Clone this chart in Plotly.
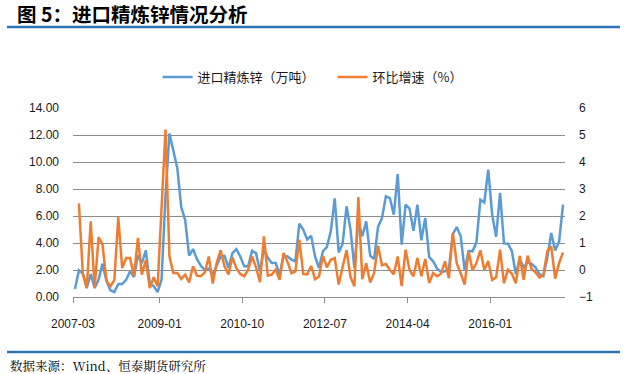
import plotly.graph_objects as go
import pandas as pd

months = [p.strftime("%Y-%m") for p in pd.period_range("2007-03", "2017-07", freq="M")]

imports_wt = [
    0.6, 1.98, 1.75, 0.67, 1.7, 0.67, 1.28, 2.47, 1.2, 0.5,
    0.37, 0.96, 0.96, 1.28, 1.9, 1.48, 3.1, 2.5, 3.45, 1.0,
    0.8, 0.37, 1.3, 7.5, 12.1, 10.9, 9.55, 6.65, 5.7, 3.06,
    3.55, 2.8, 2.3, 2.0, 2.1, 1.65, 2.27, 3.0, 3.05, 2.15,
    3.25, 3.55, 3.0, 2.27, 2.27, 3.43, 3.25, 1.9, 3.5, 2.9,
    2.52, 2.52, 1.65, 3.06, 3.0, 2.77, 2.64, 5.43, 5.0, 4.25,
    4.54, 3.0, 2.15, 3.4, 3.7, 4.86, 7.3, 3.3, 3.93, 6.72,
    5.0, 2.15, 5.6, 4.5, 5.6, 3.06, 2.81, 5.19, 5.85, 7.46,
    7.33, 6.1, 9.1, 3.88, 6.84, 6.55, 4.9, 6.84, 4.2, 5.85,
    2.95, 2.64, 2.1, 1.85, 1.9, 2.1, 4.65, 5.18, 4.5, 2.0,
    3.4, 3.38, 4.05, 7.2, 7.0, 9.43, 6.1, 4.47, 7.72, 3.97,
    3.95, 3.4, 1.7, 2.8, 2.2, 2.55, 2.45, 2.2, 1.7, 1.55,
    2.9, 4.74, 3.45, 4.1, 6.84,
]

mom_growth = [
    None, 2.47, -0.14, -0.67, 1.8, -0.67, 1.22, 0.94, -0.4, -0.6,
    -0.38, 1.96, 0.07, 0.44, 0.44, -0.23, 1.19, -0.17, 0.36, -0.67,
    -0.27, -0.6, 2.3, 5.2, 0.5, -0.11, -0.11, -0.33, -0.17, -0.46,
    0.14, -0.21, -0.23, -0.09, 0.5, -0.5, 0.26, 0.73, 0.14, -0.17,
    0.47, 0.07, -0.15, -0.23, 0.01, 0.5, 0.1, -0.45, 1.25, -0.21,
    -0.17, 0.01, -0.36, 0.63, 0.3, -0.12, -0.05, 1.12, -0.14, -0.16,
    0.15, -0.34, -0.24, 0.52, 0.1, 0.38, 0.44, -0.54, 0.12, 0.73,
    -0.26, -0.6, 2.7, -0.34, 0.25, -0.46, -0.11, 0.9, 0.18, 0.22,
    0.01, -0.16, 0.5, -0.6, 0.75, 0.0, -0.23, 0.44, -0.23, 0.41,
    -0.48, -0.11, -0.23, -0.14, 0.32, -0.3, 1.38, 0.24, -0.12, -0.54,
    0.69, -0.01, 0.26, 0.73, 0.0, 0.33, -0.37, -0.27, 0.75, -0.49,
    0.01, -0.14, -0.49, 0.52, -0.36, 0.53, 0.04, -0.08, -0.28, -0.19,
    0.69, 0.88, -0.32, 0.26, 0.65,
]

tick_labels = ["2007-03", "2009-01", "2010-10", "2012-07", "2014-04", "2016-01"]
left_ticks = [0, 2, 4, 6, 8, 10, 12, 14]
right_ticks = [-1, 0, 1, 2, 3, 4, 5, 6]

BLUE = "#5B9BD5"
ORANGE = "#ED7D31"
GRID = "#8C8C8C"
TXT = "#1a1a1a"
RULE = "#2E75B6"
CJK = "Noto Sans CJK SC"
LAT = "Liberation Sans, Arial, sans-serif"

idx = list(range(len(months)))
tick_pos = [months.index(t) - 0.5 for t in tick_labels]

fig = go.Figure()
fig.add_trace(go.Scatter(
    x=idx, y=imports_wt, mode="lines", name="进口精炼锌（万吨）",
    line=dict(color=BLUE, width=2.5), text=months, yaxis="y",
))
fig.add_trace(go.Scatter(
    x=idx, y=mom_growth, mode="lines", name="环比增速（%）",
    line=dict(color=ORANGE, width=2.5), text=months, yaxis="y2",
))

fig.update_layout(
    width=629, height=374,
    margin=dict(l=73, r=64, t=108, b=77),
    paper_bgcolor="white", plot_bgcolor="white",
    font=dict(family=LAT, size=12, color=TXT),
    showlegend=True,
    legend=dict(
        orientation="h", x=0.172, y=1.164, xanchor="left", yanchor="middle",
        font=dict(family=CJK, size=13, color=TXT),
        itemwidth=30, tracegroupgap=0, bgcolor="rgba(0,0,0,0)",
        entrywidth=130, entrywidthmode="pixels",
    ),
    xaxis=dict(
        range=[-0.5, len(months) - 0.5],
        tickmode="array", tickvals=tick_pos, ticktext=tick_labels,
        ticks="outside", ticklen=5, tickcolor=GRID, tickwidth=1,
        showline=True, linecolor=GRID, linewidth=1,
        showgrid=False, zeroline=False,
        tickfont=dict(family=LAT, size=12, color=TXT),
        ticklabelstandoff=11,
    ),
    yaxis=dict(
        range=[0, 14], tickmode="array", tickvals=left_ticks,
        tickformat=".2f", showgrid=True, gridcolor=GRID, gridwidth=1,
        zeroline=False, showline=False, ticks="",
        tickfont=dict(family=LAT, size=12, color=TXT),
        ticklabelstandoff=13,
    ),
    yaxis2=dict(
        range=[-1, 6], tickmode="array", tickvals=right_ticks,
        overlaying="y", side="right", showgrid=False, zeroline=False,
        showline=False, ticks="",
        tickfont=dict(family=LAT, size=12, color=TXT),
        ticklabelstandoff=13,
    ),
    title=dict(
        text="<b>图 5：进口精炼锌情况分析</b>",
        x=17 / 629, y=1 - 15 / 374, xanchor="left", yanchor="middle",
        xref="container", yref="container",
        font=dict(family=CJK, size=19.5, color="#000000"),
    ),
)

# rules under the title and above the source line
fig.add_shape(type="line", xref="paper", yref="paper",
              x0=(7 - 73) / 492, x1=(620 - 73) / 492,
              y0=(297 - 27) / 189, y1=(297 - 27) / 189,
              line=dict(color=RULE, width=2.5))
fig.add_shape(type="line", xref="paper", yref="paper",
              x0=(7 - 73) / 492, x1=(620 - 73) / 492,
              y0=(297 - 352) / 189, y1=(297 - 352) / 189,
              line=dict(color=RULE, width=2.5))

fig.add_annotation(
    text="数据来源：Wind、恒泰期货研究所",
    xref="paper", yref="paper",
    x=(8 - 73) / 492, y=(297 - 366) / 189,
    xanchor="left", yanchor="middle", showarrow=False,
    font=dict(family="Noto Serif CJK SC, " + CJK, size=12.5, color="#000000"),
)

fig.write_html(
    "out.html",
    config={"displayModeBar": False},
    post_script="document.body.style.margin='0';document.body.style.overflow='hidden';",
)
